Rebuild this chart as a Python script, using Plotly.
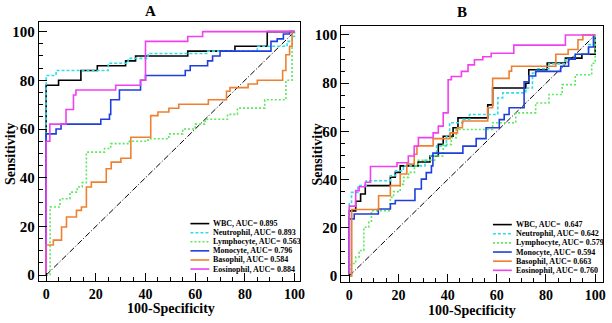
import plotly.graph_objects as go

# ---------------- data ----------------
labels_A = ["WBC, AUC= 0.895", "Neutrophil, AUC= 0.893", "Lymphocyte, AUC= 0.563",
            "Monocyte, AUC= 0.796", "Basophil, AUC= 0.584", "Eosinophil, AUC= 0.884"]
labels_B = ["WBC, AUC=  0.647", "Neutrophil, AUC= 0.642", "Lymphocyte, AUC= 0.579",
            "Monocyte, AUC= 0.594", "Basophil, AUC= 0.663", "Eosinophil, AUC= 0.760"]

# Panel A (x = 100-Specificity, y = Sensitivity), step corners
wbc_A_x = [0, 0, 5, 14, 20.6, 32, 36, 57, 76, 89, 100]
wbc_A_y = [0, 78, 80, 84, 86, 88, 90, 92, 94, 100, 100]
neu_A_x = [0, 0, 4, 25, 33, 41, 65, 85, 97, 99, 100]
neu_A_y = [0, 82, 84, 87, 89, 91, 92, 94, 96, 98, 100]
lym_A_x = [0, 1.6, 5.6, 9.6, 12.5, 14.5, 16.2, 23.5, 26, 33.5, 41, 49.4, 55, 60, 64, 73, 77, 88, 96.5, 99, 100]
lym_A_y = [0, 28, 31.4, 34.1, 36.2, 38, 50.5, 52, 54, 55, 56, 58, 60, 62, 64, 66, 68.6, 72, 80, 100, 100]
mon_A_x = [0, 0, 4, 6, 22, 25.5, 26, 29.5, 38, 40, 56, 58, 65, 67, 70, 90.5, 93, 95.5, 98, 100]
mon_A_y = [0, 58, 60, 62, 64, 66, 72, 76, 80, 82, 84, 86, 88, 90, 92, 96, 97, 99, 100, 100]
bas_A_x = [0, 0, 2.9, 6.2, 8.2, 12.2, 14.2, 16.2, 18.2, 24.2, 26.2, 30.1, 34.1, 42.1, 45, 49.4, 53.4,
           65.3, 72.6, 74, 81.3, 85, 95.2, 96.5, 98, 99, 100]
bas_A_y = [0, 12.4, 14.4, 19.8, 23.9, 26.6, 28, 36.2, 38.2, 43.7, 46.4, 48, 56.6, 65.5, 67, 68.5, 70.2,
           72, 75.5, 77, 78.5, 80, 84, 90.5, 94, 100, 100]
eos_A_x = [0, 0, 1.5, 8, 11, 12, 28, 38, 40, 57, 63, 100]
eos_A_y = [0, 55, 62, 68, 74, 76, 78, 80, 96, 98, 100, 100]

# Panel B
wbc_B_x = [0, 0, 2.6, 4.6, 6.5, 16.7, 18.7, 20.7, 28, 32.8, 36.2, 38.2, 42.2, 44.2, 56.3, 58.3,
           71.8, 73, 80.5, 87.9, 94.6, 100, 100]
wbc_B_y = [0, 27, 31, 34, 37.5, 41, 43, 45.7, 47.3, 49.8, 54.6, 58, 61.5, 65.6, 71, 78,
           80, 85.6, 88.4, 90.4, 92, 92, 100]
neu_B_x = [0, 0, 0.9, 3.5, 6.9, 16.7, 18.8, 22, 30.8, 33, 35.5, 39.5, 40.8, 46.2, 48.9, 60.4, 62.4,
           71.8, 74.5, 76, 81.2, 87.9, 91.9, 97.3, 100]
neu_B_y = [0, 30, 34.7, 37.5, 39.5, 41.6, 43.6, 45.7, 48, 50, 54, 58, 63.6, 65, 67, 73.9, 76,
           78, 84.2, 86, 88, 90, 92, 96, 100]
lym_B_x = [0, 0.8, 2.6, 4, 5.9, 7.9, 9, 16.7, 18, 20.7, 22.1, 24.1, 26.5, 28.1, 34.7, 38.2, 41.5,
           43.5, 58.3, 67.7, 75.8, 81.2, 86.6, 91.9, 98.6, 100]
lym_B_y = [0, 5.2, 7.9, 10.6, 20.2, 22.3, 27.1, 32.6, 35, 38, 40.9, 43, 45.7, 48, 49.8, 54.6, 57.4,
           60.8, 63.6, 67.7, 71.8, 75.3, 79.4, 83.5, 88.3, 100]
mon_B_x = [0, 0, 2, 11.8, 16.7, 18.7, 26.7, 29.3, 31.3, 33.4, 34, 46.2, 51.6, 55.6, 61, 63, 65,
           71.1, 73, 75.8, 86, 89.2, 91.9, 97.3, 99.3, 100]
mon_B_y = [0, 23.7, 25.7, 27.8, 30, 31.3, 36.1, 40.2, 42.9, 45.7, 51, 53.9, 57, 61.5, 64.9, 67, 69.8,
           80.6, 83, 84.9, 87, 90, 92, 95, 100, 100]
bas_B_x = [0, 1, 11.9, 16.7, 20.7, 23.4, 26.4, 27.5, 34.1, 41, 44, 46, 56.3, 58.3, 65, 66, 84, 89,
           93, 95, 100]
bas_B_y = [0, 27.6, 33.3, 37.5, 42.3, 46.4, 50.5, 54, 57, 59.4, 61.5, 64.3, 69.8, 82, 85, 87, 92, 94,
           98, 100, 100]
eos_B_x = [0, 0, 2.6, 4, 6.5, 8.6, 19.4, 24, 26.4, 28.1, 34.1, 36.2, 38.2, 40.2, 41.5, 45.6, 48.3,
           50.9, 54.3, 57.7, 66.9, 87.9, 100]
eos_B_y = [0, 29, 35.4, 37, 38.9, 45.4, 47, 49.8, 53.9, 57.4, 59.4, 62.2, 67.7, 81.4, 82.8, 84.9, 87.6,
           89.7, 91, 92.4, 95.8, 100, 100]

diag = [0, 100]
ticks_major = [0, 20, 40, 60, 80, 100]
tick_text = ["0", "20", "40", "60", "80", "100"]

colors = ["#000000", "#2fdde6", "#5ee65e", "#1f3fdc", "#f08030", "#f040f0"]
dashes = ["solid", "3px,2px", "2px,2px", "solid", "solid", "solid"]

series_A = [(wbc_A_x, wbc_A_y), (neu_A_x, neu_A_y), (lym_A_x, lym_A_y),
            (mon_A_x, mon_A_y), (bas_A_x, bas_A_y), (eos_A_x, eos_A_y)]
series_B = [(wbc_B_x, wbc_B_y), (neu_B_x, neu_B_y), (lym_B_x, lym_B_y),
            (mon_B_x, mon_B_y), (bas_B_x, bas_B_y), (eos_B_x, eos_B_y)]

W, H = 612, 323
FONT = "Liberation Serif, Times New Roman, serif"

fig = go.Figure()

def px2x(p):
    return p / W

def px2y(p):
    return 1 - p / H

for (series, labels, xa, ya) in [(series_A, labels_A, "x", "y"), (series_B, labels_B, "x2", "y2")]:
    fig.add_trace(go.Scatter(x=diag, y=diag, mode="lines", xaxis=xa, yaxis=ya,
                             line=dict(color="black", width=1, dash="6px,2px,1px,2px"),
                             showlegend=False, hoverinfo="skip"))
    for i, (sx, sy) in enumerate(series):
        fig.add_trace(go.Scatter(x=sx, y=sy, mode="lines", xaxis=xa, yaxis=ya, name=labels[i],
                                 line=dict(color=colors[i], width=1.6, dash=dashes[i], shape="hv"),
                                 showlegend=False))

axis_common = dict(
    showgrid=False, zeroline=False, showline=True, linecolor="black", linewidth=1, mirror=True,
    ticks="inside", ticklen=8, tickwidth=1, tickcolor="black",
    tickvals=ticks_major, ticktext=tick_text,
    minor=dict(dtick=5, ticks="inside", ticklen=4, tickwidth=1, tickcolor="black", showgrid=False),
    tickfont=dict(family=FONT, size=15, color="black", weight="bold"),
)
xtickfont = dict(family=FONT, size=14, color="black", weight="bold")

fig.update_layout(
    width=W, height=H, autosize=False,
    margin=dict(l=0, r=0, t=0, b=0),
    paper_bgcolor="white", plot_bgcolor="white",
    showlegend=False,
    xaxis=dict(domain=[px2x(39), px2x(302)], range=[-3, 102], anchor="y", **axis_common),
    yaxis=dict(domain=[px2y(283), px2y(22)], range=[-2.5, 104], anchor="x", **axis_common),
    xaxis2=dict(domain=[px2x(344), px2x(608)], range=[-3.3, 103.2], anchor="y2", **axis_common),
    yaxis2=dict(domain=[px2y(284), px2y(26)], range=[-2.6, 103.8], anchor="x2", **axis_common),
)
fig.update_xaxes(tickfont=xtickfont)

ann = []
title_font = dict(family=FONT, size=15, color="black", weight="bold")
lab_font = dict(family=FONT, size=14, color="black", weight="bold")
ann.append(dict(text="A", x=px2x(152), y=px2y(11), xref="paper", yref="paper", showarrow=False,
                font=title_font, xanchor="center", yanchor="middle"))
ann.append(dict(text="B", x=px2x(466), y=px2y(12), xref="paper", yref="paper", showarrow=False,
                font=title_font, xanchor="center", yanchor="middle"))
for cx in (10, 320):
    ann.append(dict(text="Sensitivity", x=px2x(cx), y=px2y(155), xref="paper", yref="paper",
                    showarrow=False, textangle=-90, font=lab_font, xanchor="center", yanchor="middle"))
for cx, cy in ((172, 310), (476, 312)):
    ann.append(dict(text="100-Specificity", x=px2x(cx), y=px2y(cy), xref="paper", yref="paper",
                    showarrow=False, font=lab_font, xanchor="center", yanchor="middle"))

# manual compact legends
leg_font = dict(family=FONT, size=8, color="black", weight="bold")
shapes = []
for (labels, lx0, lx1, tx, rows) in [
        (labels_A, 192, 211, 213, [225, 234.2, 243.3, 252.4, 261.6, 270.7]),
        (labels_B, 497, 516, 518, [226, 235.2, 244.4, 253.6, 262.8, 272])]:
    for i, lab in enumerate(labels):
        shapes.append(dict(type="line", xref="paper", yref="paper",
                           x0=px2x(lx0), x1=px2x(lx1), y0=px2y(rows[i]), y1=px2y(rows[i]),
                           line=dict(color=colors[i], width=1.6, dash=dashes[i])))
        ann.append(dict(text=lab, x=px2x(tx), y=px2y(rows[i]), xref="paper", yref="paper",
                        showarrow=False, font=leg_font, xanchor="left", yanchor="middle"))

fig.update_layout(annotations=ann, shapes=shapes)
fig.write_html("out.html",
               config={"displayModeBar": False},
               post_script="document.body.style.margin='0';document.body.style.padding='0';"
                           "document.body.style.overflow='hidden';")
